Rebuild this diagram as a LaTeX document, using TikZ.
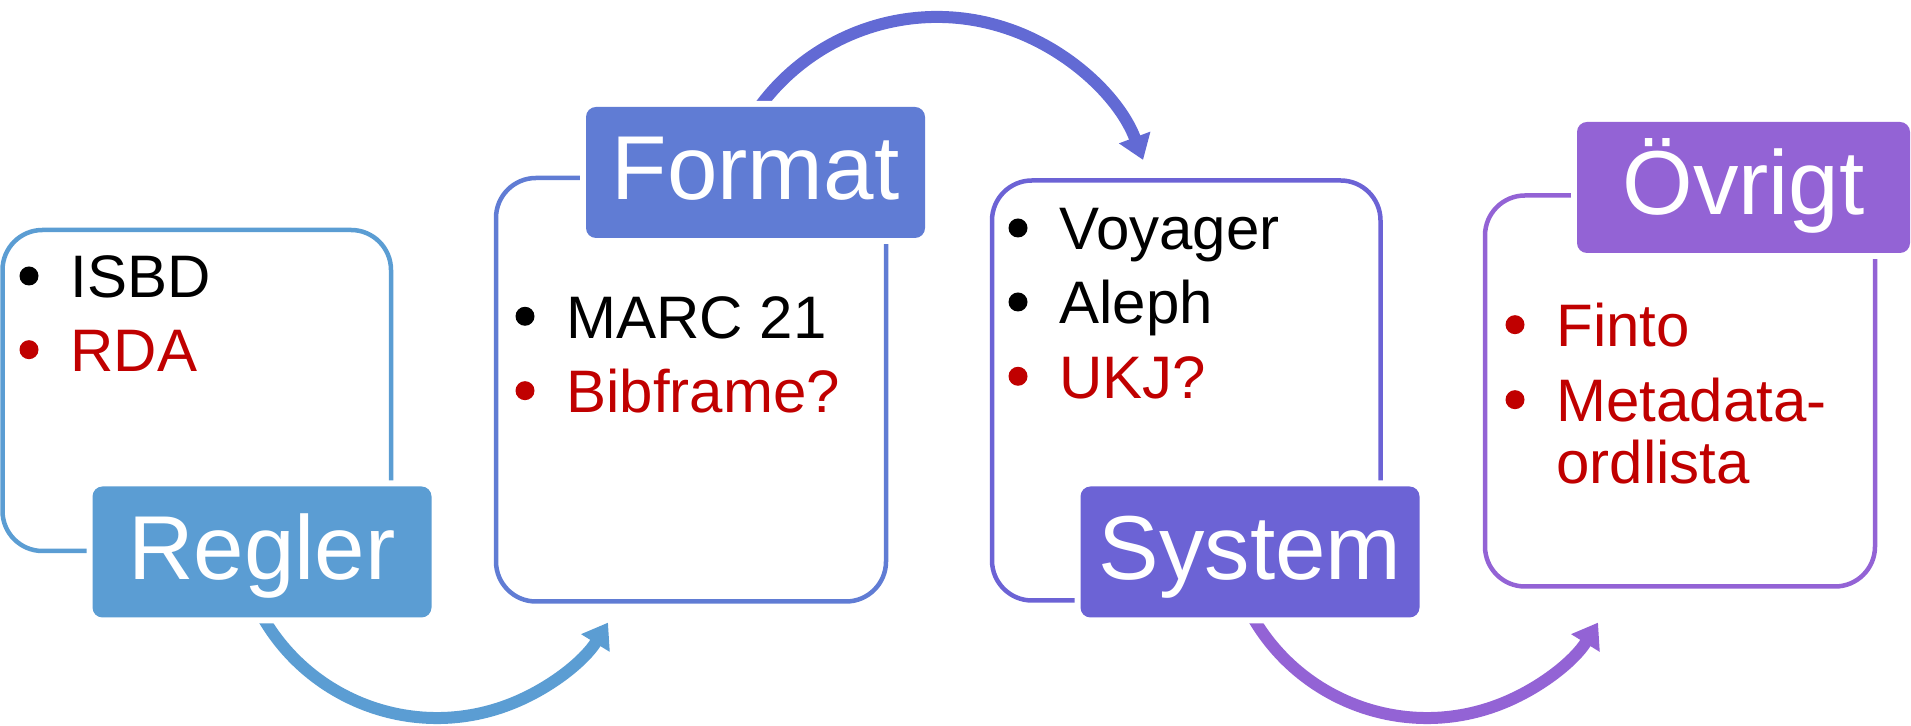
\documentclass[tikz,border=0pt]{standalone}
\usepackage{fontspec}
\setmainfont{Liberation Sans}
\usetikzlibrary{arrows.meta, calc}

\definecolor{regler}{RGB}{91,157,211}
\definecolor{format}{RGB}{96,124,212}
\definecolor{system}{RGB}{108,99,213}
\definecolor{ovrigt}{RGB}{147,99,213}
\definecolor{topflow}{RGB}{98,106,212}
\definecolor{planned}{RGB}{192,0,0}

\begin{document}
\begin{tikzpicture}[x = 0.5pt, y = 0.5pt,
    box/.style = {line width = 2.25pt, rounded corners = 20pt},
    tab/.style = {rectangle, rounded corners = 5pt, inner sep = 0pt,
        minimum width = 169.5pt, minimum height = 65.5pt, text = white,
        font = \fontsize{45.4pt}{45pt}\selectfont, text height = 32.5pt, text depth = 5pt,
        preaction = {draw = white, line width = 6pt}},
    item/.style = {anchor = base west, inner sep = 0pt, font = \fontsize{30pt}{30pt}\selectfont},
    flow/.style = {line width = 6pt, -{Triangle[length = 12pt, width = 16pt]}}]
    \useasboundingbox (0, 0) rectangle (1911, 726);

    % content boxes
    \draw[box, regler] (2.5, 175) rectangle (391, 496);
    \draw[box, format] (496, 124.5) rectangle (886, 548);
    \draw[box, system] (992, 125.5) rectangle (1380.5, 545.5);
    \draw[box, ovrigt] (1485, 139.5) rectangle (1875, 530.5);

    % arrows between the steps
    \coordinate (c1) at (437, 209);
    \coordinate (c2) at (937, 489);
    \coordinate (c3) at (1427, 209);
    \draw[flow, regler] (c1) ++(200:201) arc[start angle = 200, end angle = 328.3, radius = 201];
    \draw[flow, topflow] (c2) ++(160:220) arc[start angle = 160, end angle = 20.5, radius = 220];
    \draw[flow, ovrigt] (c3) ++(200:201) arc[start angle = 200, end angle = 328.3, radius = 201];

    % tabs
    \node[tab, fill = regler] (regler) at (262, 174){Regler};
    \node[tab, fill = format] (format) at (755.5, 553.5){Format};
    \node[tab, fill = system] (system) at (1250, 174){System};
    \node[tab, fill = ovrigt, minimum width = 166.5pt] (ovrigt) at (1743.5, 538.5){Övrigt};

    % items
    \node[item] (isbd) at (70, 428){ISBD};
    \node[item, planned] (rda) at (70, 354.3){RDA};
    \node[item] (marc) at (566, 387.7){MARC 21};
    \node[item, planned] (bibframe) at (566, 313.3){Bibframe?};
    \node[item] (voyager) at (1059, 476){Voyager};
    \node[item] (aleph) at (1059, 402){Aleph};
    \node[item, planned] (ukj) at (1059, 327.7){UKJ?};
    \node[item, planned] (finto) at (1556, 379.3){Finto};
    \node[item, planned] (metadata) at (1556, 304.3){Metadata-};
    \node[item, planned] (ordlista) at (1556, 242.7){ordlista};

    \foreach \n/\c in {isbd/black, rda/planned, marc/black, bibframe/planned, voyager/black,
        aleph/black, ukj/planned, finto/planned, metadata/planned}
        \fill[\c] ($(\n.base west) + (-41, 22)$) circle (9.5);
\end{tikzpicture}
\end{document}
